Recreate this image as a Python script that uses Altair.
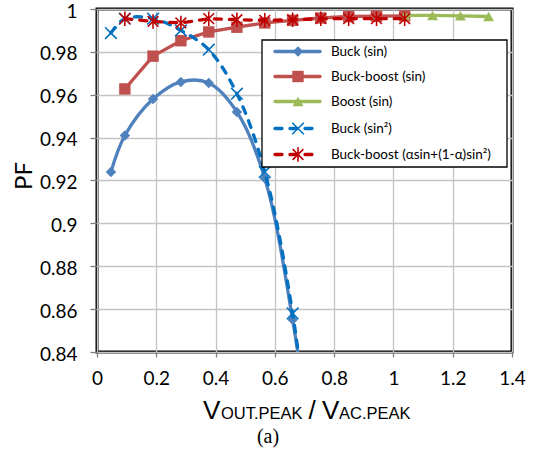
import altair as alt
import pandas as pd

# ---------------- data ----------------
x_buck = [0.047, 0.094, 0.189, 0.283, 0.377, 0.472, 0.566, 0.660, 0.755]
pf_buck = [0.924, 0.941, 0.958, 0.966, 0.9655, 0.952, 0.921, 0.855, 0.76]

x_bb = [0.094, 0.189, 0.283, 0.377, 0.472, 0.566, 0.660, 0.755, 0.849, 0.943, 1.038]
pf_bb = [0.9627, 0.978, 0.9852, 0.9893, 0.9915, 0.9935, 0.9947, 0.9958, 0.9965, 0.9967, 0.9968]

x_boost = [1.038, 1.132, 1.226, 1.321]
pf_boost = [0.997, 0.997, 0.9968, 0.9965]

x_buck2 = [0.047, 0.094, 0.189, 0.283, 0.377, 0.472, 0.566, 0.660, 0.755]
pf_buck2 = [0.9888, 0.9955, 0.9955, 0.990, 0.981, 0.9605, 0.924, 0.858, 0.75]

x_bba = [0.094, 0.189, 0.283, 0.377, 0.472, 0.566, 0.660, 0.755, 0.849, 0.943, 1.038]
pf_bba = [0.9955, 0.9942, 0.9935, 0.9955, 0.995, 0.9947, 0.995, 0.9955, 0.9955, 0.9955, 0.9955]

labels = ["Buck (sin)", "Buck-boost (sin)", "Boost (sin)", "Buck (sin²)",
          "Buck-boost (αsin+(1-α)sin²)"]
x_ticks = [0, 0.2, 0.4, 0.6, 0.8, 1.0, 1.2, 1.4]
y_ticks = [0.84, 0.86, 0.88, 0.90, 0.92, 0.94, 0.96, 0.98, 1.0]

# ---------------- styles ----------------
X_PATH = "M-1,-1L1,1M-1,1L1,-1"
STAR_PATH = "M-1,-1L1,1M-1,1L1,-1M0,-1.35L0,1.35"
styles = [
    dict(color="#4F81BD", dash=None, shape="diamond", filled=True, size=110, interp="catmull-rom"),
    dict(color="#C0504D", dash=None, shape="square", filled=True, size=130, interp="linear"),
    dict(color="#9BBB59", dash=None, shape="triangle-up", filled=True, size=120, interp="linear"),
    dict(color="#0070C0", dash=[7, 8], shape=X_PATH, filled=False, size=135, interp="catmull-rom"),
    dict(color="#C00000", dash=[7, 8], shape=STAR_PATH, filled=False, size=115, interp="linear"),
]
series_data = [(x_buck, pf_buck), (x_bb, pf_bb), (x_boost, pf_boost),
               (x_buck2, pf_buck2), (x_bba, pf_bba)]

W, H = 415, 343
PAD_L, PAD_T = 97, 9

xscale = alt.Scale(domain=[0, 1.4], nice=False, zero=False)
yscale = alt.Scale(domain=[0.84, 1.0], nice=False, zero=False)
xaxis = alt.Axis(values=x_ticks, format=".1~f", title=None, grid=True,
                 gridColor="#c4c4c4", gridWidth=1.3, domain=False,
                 tickColor="#7f7f7f", tickSize=5, tickWidth=1.3,
                 labelFont="Lato", labelFontSize=19, labelColor="#000",
                 labelPadding=12, labelFlush=False, labelOverlap=False)
yaxis = alt.Axis(values=y_ticks, format=".2~f", title=None, grid=True,
                 gridColor="#c4c4c4", gridWidth=1.3, domain=False,
                 tickColor="#7f7f7f", tickSize=7, tickWidth=1.3,
                 labelFont="Lato", labelFontSize=19, labelColor="#000",
                 labelPadding=13, labelFlush=False, labelOverlap=False,
                 labelOffset=2)

layers = []
for (xs, ys), st in zip(series_data, styles):
    df = pd.DataFrame({"x": xs, "pf": ys})
    base = alt.Chart(df).encode(
        x=alt.X("x:Q", scale=xscale, axis=xaxis),
        y=alt.Y("pf:Q", scale=yscale, axis=yaxis),
    )
    line_kw = dict(color=st["color"], strokeWidth=3.3, interpolate=st["interp"],
                   clip=True, strokeCap="round", strokeJoin="round")
    if st["dash"]:
        line_kw["strokeDash"] = st["dash"]
    layers.append(base.mark_line(**line_kw))
    if st["filled"]:
        pts = base.mark_point(shape=st["shape"], filled=True, size=st["size"],
                              color=st["color"], opacity=1, clip=True)
    else:
        pts = base.mark_point(shape=st["shape"], filled=False, size=st["size"],
                              color=st["color"], strokeWidth=1.6, opacity=1, clip=True)
    layers.append(pts)

one = pd.DataFrame({"d": [0]})

# ---------------- legend ----------------
LX0, LX1, LY0, LY1 = 262 - PAD_L, 507 - PAD_L, 40 - PAD_T, 167 - PAD_T
layers.append(alt.Chart(one).mark_rect(fill="white", stroke="#000", strokeWidth=1.3).encode(
    x=alt.value(LX0), x2=alt.value(LX1), y=alt.value(LY0), y2=alt.value(LY1)))
row_y = [51.5, 76.5, 101.5, 128.5, 154.5]
for lab, st, ry in zip(labels, styles, row_y):
    yy = ry - PAD_T
    rk = dict(color=st["color"], strokeWidth=3.3, strokeCap="round")
    if st["dash"]:
        rk["strokeDash"] = st["dash"]
    layers.append(alt.Chart(one).mark_rule(**rk).encode(
        x=alt.value(275 - PAD_L), x2=alt.value(320 - PAD_L), y=alt.value(yy)))
    if st["filled"]:
        pk = dict(shape=st["shape"], filled=True, size=st["size"], color=st["color"], opacity=1)
    else:
        pk = dict(shape=st["shape"], filled=False, size=st["size"], color=st["color"],
                  strokeWidth=1.6, opacity=1)
    layers.append(alt.Chart(one).mark_point(**pk).encode(
        x=alt.value(298 - PAD_L), y=alt.value(yy)))
    layers.append(alt.Chart(one).mark_text(align="left", baseline="middle", font="Lato",
                                           fontSize=13.5, color="#000", text=lab).encode(
        x=alt.value(331 - PAD_L), y=alt.value(yy)))

# ---------------- titles ----------------
def txt(s, x, y, size, font="Liberation Sans", align="left", angle=0, baseline="alphabetic"):
    kw = dict(align=align, baseline=baseline, font=font, fontSize=size, color="#000", text=s)
    if angle:
        kw["angle"] = angle
    return alt.Chart(one).mark_text(**kw).encode(x=alt.value(x - PAD_L), y=alt.value(y - PAD_T))

layers.append(txt("PF", 25, 176, 24, font="Lato", align="center", angle=270, baseline="middle"))
title_base = 419
layers.append(txt("V", 203, title_base, 26))
layers.append(txt("OUT.PEAK", 221, title_base, 16.5))
layers.append(txt("/", 312, title_base, 26, align="center"))
layers.append(txt("V", 322, title_base, 26))
layers.append(txt("AC.PEAK", 339, title_base, 16.5))
layers.append(txt("(a)", 268, 443, 20, font="Liberation Serif", align="center"))

chart = alt.layer(*layers).properties(
    width=W, height=H,
    padding={"left": PAD_L, "top": PAD_T, "right": 537 - PAD_L - W, "bottom": 459 - PAD_T - H},
    autosize="none",
).configure_view(stroke="#000", strokeWidth=3)

chart.save("out.html", embed_options={"renderer": "svg", "actions": False})
